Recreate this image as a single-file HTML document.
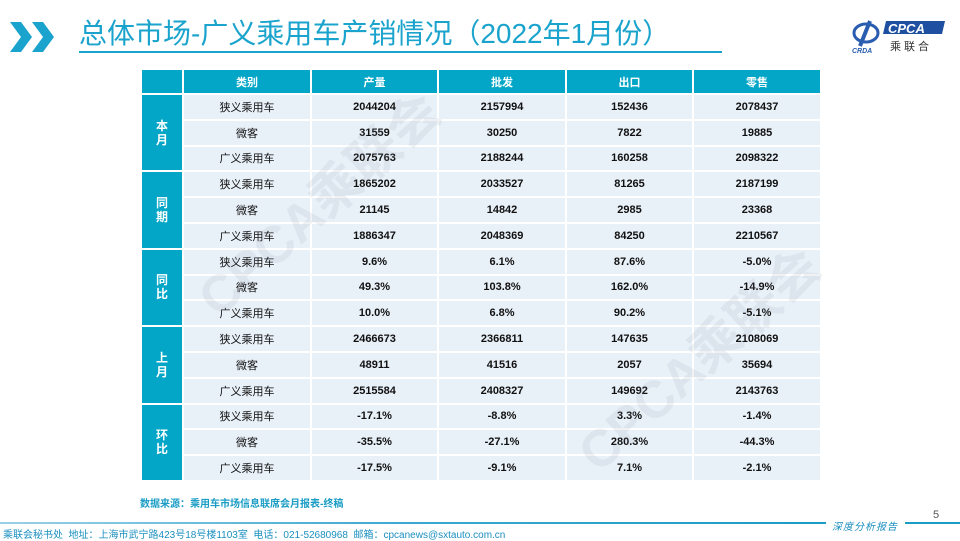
<!DOCTYPE html>
<html><head><meta charset="utf-8"><style>
body{margin:0;width:960px;height:540px;background:#fff;position:relative;overflow:hidden;font-family:"Liberation Sans","Noto Sans CJK SC",sans-serif}
.title{position:absolute;left:79px;top:17px;font-size:28px;color:#1aa3cc;white-space:nowrap;line-height:34px}
.uline{position:absolute;left:79px;top:51px;width:643px;height:2px;background:#1aa3cc}
table{position:absolute;left:140px;top:68px;border-collapse:collapse;table-layout:fixed}
td{border:2px solid #fff;text-align:center;font-size:11px;height:23.8px;padding:0;background:#e8f0f8;color:#111}
td.n{font-weight:bold}
tr.h td{background:#03a6c6;color:#fff;font-weight:bold;height:23px}
td.g{background:#03a6c6;color:#fff;font-weight:bold;font-size:12px;line-height:14px}
.wm{position:absolute;color:rgba(140,150,165,0.13);font-weight:bold;font-size:52px;white-space:nowrap;transform:translate(-50%,-50%) rotate(-42deg);line-height:60px}
</style></head><body>
<svg style="position:absolute;left:10px;top:22px" width="52" height="30"><polygon points="0,0 11,0 22,15 11,30 0,30 11,15" fill="#1aa3cc"/><polygon points="22,0 33,0 44,15 33,30 22,30 33,15" fill="#1aa3cc"/></svg>
<div class="title">总体市场-广义乘用车产销情况（2022年1月份）</div>
<div class="uline"></div>
<svg style="position:absolute;left:850px;top:18px" width="95" height="36">
<ellipse cx="16" cy="15" rx="12" ry="9" fill="none" stroke="#2a5cb0" stroke-width="3"/>
<path d="M20 3 L10 28" stroke="#2a5cb0" stroke-width="4"/>
<text x="2" y="35" font-size="7" font-style="italic" font-weight="bold" fill="#2a5cb0" font-family="Liberation Sans">CRDA</text>
<polygon points="36,3 95,3 92,16 33,16" fill="#1e4fa0"/>
<text x="38" y="15" font-size="13" font-style="italic" font-weight="bold" fill="#fff" font-family="Liberation Sans">CPCA</text>
<text x="40" y="32" font-size="11" fill="#333" font-family="Noto Sans CJK SC" letter-spacing="3">乘联合</text>
</svg>
<table>
<colgroup><col style="width:42px"><col style="width:128px"><col style="width:127px"><col style="width:128px"><col style="width:127px"><col style="width:128px"></colgroup>
<tr class="h"><td></td><td>类别</td><td>产量</td><td>批发</td><td>出口</td><td>零售</td></tr>
<tr><td class="g" rowspan="3">本<br>月</td><td>狭义乘用车</td><td class="n">2044204</td><td class="n">2157994</td><td class="n">152436</td><td class="n">2078437</td></tr>
<tr><td>微客</td><td class="n">31559</td><td class="n">30250</td><td class="n">7822</td><td class="n">19885</td></tr>
<tr><td>广义乘用车</td><td class="n">2075763</td><td class="n">2188244</td><td class="n">160258</td><td class="n">2098322</td></tr>
<tr><td class="g" rowspan="3">同<br>期</td><td>狭义乘用车</td><td class="n">1865202</td><td class="n">2033527</td><td class="n">81265</td><td class="n">2187199</td></tr>
<tr><td>微客</td><td class="n">21145</td><td class="n">14842</td><td class="n">2985</td><td class="n">23368</td></tr>
<tr><td>广义乘用车</td><td class="n">1886347</td><td class="n">2048369</td><td class="n">84250</td><td class="n">2210567</td></tr>
<tr><td class="g" rowspan="3">同<br>比</td><td>狭义乘用车</td><td class="n">9.6%</td><td class="n">6.1%</td><td class="n">87.6%</td><td class="n">-5.0%</td></tr>
<tr><td>微客</td><td class="n">49.3%</td><td class="n">103.8%</td><td class="n">162.0%</td><td class="n">-14.9%</td></tr>
<tr><td>广义乘用车</td><td class="n">10.0%</td><td class="n">6.8%</td><td class="n">90.2%</td><td class="n">-5.1%</td></tr>
<tr><td class="g" rowspan="3">上<br>月</td><td>狭义乘用车</td><td class="n">2466673</td><td class="n">2366811</td><td class="n">147635</td><td class="n">2108069</td></tr>
<tr><td>微客</td><td class="n">48911</td><td class="n">41516</td><td class="n">2057</td><td class="n">35694</td></tr>
<tr><td>广义乘用车</td><td class="n">2515584</td><td class="n">2408327</td><td class="n">149692</td><td class="n">2143763</td></tr>
<tr><td class="g" rowspan="3">环<br>比</td><td>狭义乘用车</td><td class="n">-17.1%</td><td class="n">-8.8%</td><td class="n">3.3%</td><td class="n">-1.4%</td></tr>
<tr><td>微客</td><td class="n">-35.5%</td><td class="n">-27.1%</td><td class="n">280.3%</td><td class="n">-44.3%</td></tr>
<tr><td>广义乘用车</td><td class="n">-17.5%</td><td class="n">-9.1%</td><td class="n">7.1%</td><td class="n">-2.1%</td></tr>
</table>
<div class="wm" style="left:320px;top:205px">CPCA乘联会</div>
<div class="wm" style="left:700px;top:360px">CPCA乘联会</div>
<div style="position:absolute;left:140px;top:495px;font-size:10px;font-weight:bold;color:#1a9cc4">数据来源：乘用车市场信息联席会月报表-终稿</div>
<div style="position:absolute;left:933px;top:509px;font-size:11px;color:#555">5</div>
<div style="position:absolute;left:0;top:522px;width:826px;height:2px;background:linear-gradient(90deg,#9ad0e6,#3aa8d0,#1a9cc4)"></div>
<div style="position:absolute;left:905px;top:522px;width:55px;height:2px;background:#1a9cc4"></div>
<div style="position:absolute;left:832px;top:518px;font-size:10px;color:#1a8fc0;font-style:italic;letter-spacing:1px">深度分析报告</div>
<div style="position:absolute;left:3px;top:526px;font-size:10px;color:#1a8fc0;white-space:nowrap">乘联会秘书处&nbsp; 地址：上海市武宁路423号18号楼1103室&nbsp; 电话：021-52680968&nbsp; 邮箱：cpcanews@sxtauto.com.cn</div>
</body></html>
